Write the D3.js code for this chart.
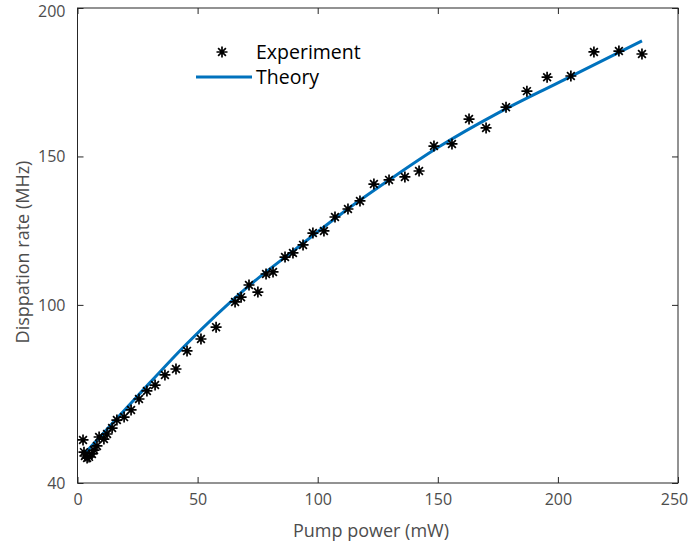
<!DOCTYPE html>
<html>
<head>
  <meta charset="UTF-8">
  <script src="https://d3js.org/d3.v7.min.js"></script>
  <style>
    body { margin: 0; background: #fff; }
    text { font-family: "Open Sans", sans-serif; }
  </style>
</head>
<body>
  <svg width="690" height="544" id="chart"></svg>

  <script>
    // measured points (pump power in mW, dissipation rate in MHz)
    let expPower = [2.3, 2.7, 3.1, 4.0, 4.8, 6.0, 6.9, 8.1, 9.0, 11.0, 12.3, 14.4, 16.4, 19.4, 22.3,
      25.6, 28.9, 32.3, 36.4, 41.0, 45.6, 51.4, 57.7, 65.6, 68.1, 71.4, 75.1, 78.5, 81.4, 86.4,
      89.7, 93.9, 98.0, 102.6, 107.2, 112.6, 117.6, 123.4, 129.7, 136.3, 142.2, 148.4, 155.9,
      163.0, 170.1, 178.4, 187.1, 195.5, 205.4, 215.0, 225.4, 235.0];
    let expRate = [54.5, 50.4, 49.1, 48.4, 48.8, 49.8, 51.1, 52.5, 55.5, 54.8, 56.5, 58.5, 61.2, 62.2, 64.6,
      68.3, 71.0, 73.0, 76.4, 78.4, 84.5, 88.5, 92.5, 101.0, 102.6, 106.7, 104.3, 110.4, 111.1, 116.1,
      117.5, 120.2, 124.2, 124.9, 129.6, 132.3, 135.0, 140.7, 142.1, 143.1, 145.1, 153.5, 154.2,
      162.6, 159.6, 166.6, 172.0, 176.7, 177.1, 185.2, 185.5, 184.5];

    // theory curve
    let theoryPower = [2.5, 25, 45, 70, 90, 110, 130, 150, 175, 200, 235];
    let theoryRate = [49.5, 69.3, 86.5, 105.5, 118.3, 130.8, 142.2, 153, 164.6, 174.8, 188.9];

    let xTicks = [0, 50, 100, 150, 200, 250];
    let yTicks = [40, 100, 150, 200];

    let margin = { top: 8, right: 12, bottom: 61, left: 77.5 };
    let svg = d3.select("#chart");
    let width = +svg.attr("width") - margin.left - margin.right;
    let height = +svg.attr("height") - margin.top - margin.bottom;

    let xScale = d3.scaleLinear().domain([0, 250]).range([0, width]);
    let yScale = d3.scaleLinear().domain([40, 200]).range([height, 0]);

    let g = svg.append("g")
      .attr("transform", `translate(${margin.left}, ${margin.top})`);

    let axisColor = "#262626";
    let labelColor = "#4d4d4d";

    function styleAxis(sel) {
      sel.select(".domain").remove();
      sel.selectAll("line").attr("stroke", axisColor);
      sel.selectAll("text")
        .attr("fill", labelColor)
        .style("font-size", "16px");
    }

    // bottom and left axes, ticks pointing inward
    let xAxisG = g.append("g")
      .attr("transform", `translate(0, ${height})`)
      .call(d3.axisBottom(xScale).tickValues(xTicks).tickSizeInner(-6).tickSizeOuter(0).tickPadding(11))
      .call(styleAxis);
    // last label pulled in so it stays on the page
    xAxisG.selectAll(".tick text")
      .filter(d => d === 250)
      .attr("dx", -4);

    let yAxisG = g.append("g")
      .call(d3.axisLeft(yScale).tickValues(yTicks).tickSizeInner(-6).tickSizeOuter(0).tickPadding(12))
      .call(styleAxis);
    // top label sits a little below its tick, as in the original
    yAxisG.selectAll(".tick text")
      .filter(d => d === 200)
      .attr("dy", "0.52em");

    // mirrored ticks on top and right
    g.append("g")
      .call(d3.axisTop(xScale).tickValues(xTicks).tickSizeInner(-6).tickSizeOuter(0).tickFormat(""))
      .call(styleAxis);

    g.append("g")
      .attr("transform", `translate(${width}, 0)`)
      .call(d3.axisRight(yScale).tickValues(yTicks).tickSizeInner(-6).tickSizeOuter(0).tickFormat(""))
      .call(styleAxis);

    // box
    g.append("rect")
      .attr("x", 0)
      .attr("y", 0)
      .attr("width", width)
      .attr("height", height)
      .attr("fill", "none")
      .attr("stroke", axisColor)
      .attr("stroke-width", 1);

    // theory line
    let line = d3.line()
      .x((d, i) => xScale(theoryPower[i]))
      .y(d => yScale(d))
      .curve(d3.curveMonotoneX);

    g.append("path")
      .datum(theoryRate)
      .attr("d", line)
      .attr("fill", "none")
      .attr("stroke", "#0072BD")
      .attr("stroke-width", 3);

    // asterisk marker like matlab '*'
    function starPath(r) {
      let d = r * 0.707;
      return `M0,${-r}V${r}M${-r},0H${r}M${-d},${-d}L${d},${d}M${-d},${d}L${d},${-d}`;
    }

    g.selectAll(".star")
      .data(expRate)
      .enter()
      .append("path")
      .attr("class", "star")
      .attr("transform", (d, i) => `translate(${xScale(expPower[i])}, ${yScale(d)})`)
      .attr("d", starPath(5.5))
      .attr("fill", "none")
      .attr("stroke", "#000")
      .attr("stroke-width", 1.7);

    // axis titles
    svg.append("text")
      .attr("x", 371)
      .attr("y", 537)
      .attr("text-anchor", "middle")
      .attr("fill", labelColor)
      .style("font-size", "18px")
      .text("Pump power (mW)");

    svg.append("text")
      .attr("transform", `translate(29, 252) rotate(-90)`)
      .attr("text-anchor", "middle")
      .attr("fill", labelColor)
      .style("font-size", "18px")
      .text("Disppation rate (MHz)");

    // legend
    let legend = svg.append("g");
    legend.append("path")
      .attr("transform", "translate(222, 52)")
      .attr("d", starPath(5.5))
      .attr("fill", "none")
      .attr("stroke", "#000")
      .attr("stroke-width", 1.7);
    legend.append("text")
      .attr("x", 256)
      .attr("y", 59)
      .attr("fill", "#000")
      .style("font-size", "19.5px")
      .text("Experiment");

    legend.append("line")
      .attr("x1", 196)
      .attr("x2", 252)
      .attr("y1", 77)
      .attr("y2", 77)
      .attr("stroke", "#0072BD")
      .attr("stroke-width", 3);
    legend.append("text")
      .attr("x", 256)
      .attr("y", 84)
      .attr("fill", "#000")
      .style("font-size", "19.5px")
      .text("Theory");
  </script>
</body>
</html>
